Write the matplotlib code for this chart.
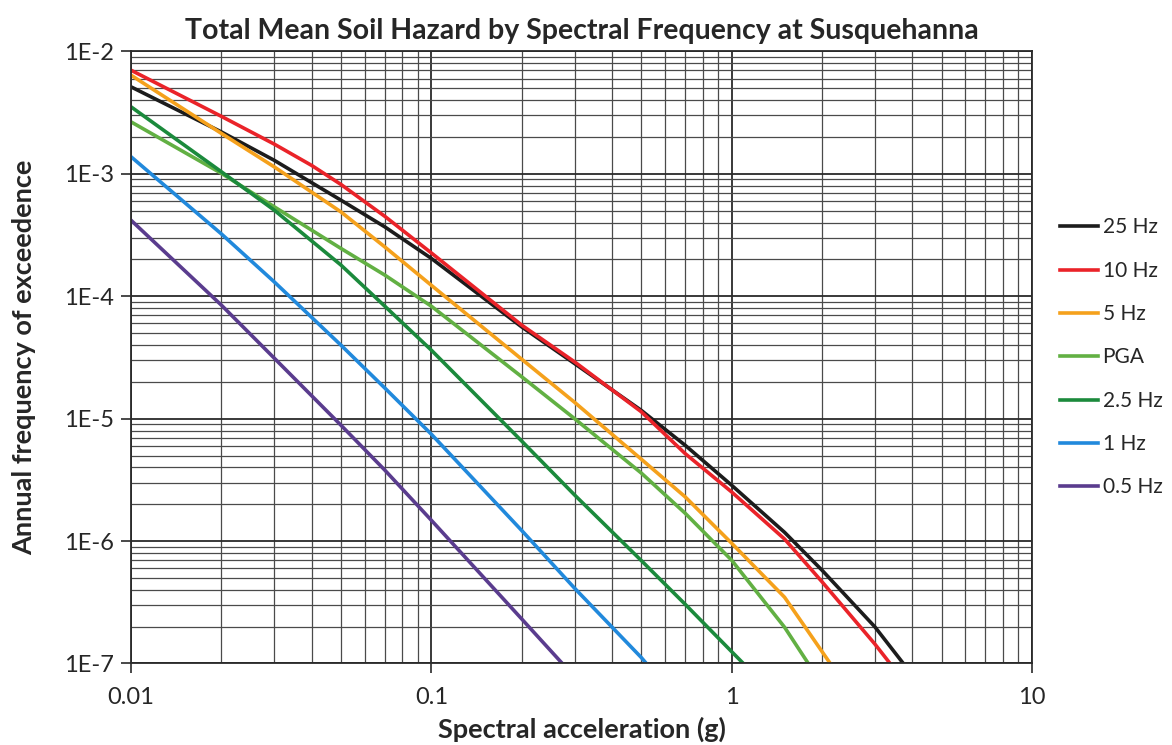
import matplotlib
matplotlib.use('Agg')
import matplotlib.pyplot as plt
from matplotlib.ticker import LogLocator, NullFormatter, FixedLocator

# hazard curves (x in g, y = annual frequency)
labels = ['25 Hz', '10 Hz', '5 Hz', 'PGA', '2.5 Hz', '1 Hz', '0.5 Hz']
colors = ['#1c1c1c', '#ea2329', '#f5a11c', '#62b043', '#1b8a3c', '#2189dc', '#5a3c8e']

x_25hz = [0.01, 0.02, 0.03, 0.05, 0.07, 0.1, 0.2, 0.3, 0.5, 0.7, 1, 1.5, 2, 3, 3.73]
y_25hz = [5.14e-3, 2.20e-3, 1.29e-3, 6.10e-4, 3.69e-4, 2.04e-4, 5.62e-5, 2.82e-5,
          1.17e-5, 6.07e-6, 2.86e-6, 1.18e-6, 5.78e-7, 1.99e-7, 1e-7]

x_10hz = [0.01, 0.02, 0.03, 0.04, 0.05, 0.07, 0.1, 0.2, 0.3, 0.5, 0.7, 1, 1.5, 2,
          3, 3.37]
y_10hz = [7.03e-3, 2.95e-3, 1.75e-3, 1.17e-3, 8.2e-4, 4.5e-4, 2.26e-4, 5.81e-5,
          2.91e-5, 1.14e-5, 5.19e-6, 2.52e-6, 1.04e-6, 4.65e-7, 1.44e-7, 1e-7]

x_5hz = [0.01, 0.02, 0.03, 0.05, 0.07, 0.1, 0.2, 0.3, 0.5, 0.7, 1, 1.5, 2.13]
y_5hz = [6.40e-3, 2.14e-3, 1.14e-3, 4.89e-4, 2.53e-4, 1.23e-4, 3.06e-5, 1.36e-5,
         4.67e-6, 2.30e-6, 9.61e-7, 3.48e-7, 1e-7]

x_pga = [0.01, 0.02, 0.03, 0.05, 0.07, 0.1, 0.2, 0.3, 0.5, 0.7, 1, 1.5, 1.80]
y_pga = [2.66e-3, 1.01e-3, 5.38e-4, 2.46e-4, 1.49e-4, 8.30e-5, 2.2e-5, 1.0e-5,
         3.6e-6, 1.69e-6, 6.98e-7, 1.98e-7, 1e-7]

x_2p5hz = [0.01, 0.02, 0.03, 0.05, 0.07, 0.1, 0.2, 0.3, 0.5, 0.7, 1, 1.094]
y_2p5hz = [3.53e-3, 1.04e-3, 5.05e-4, 1.80e-4, 8.30e-5, 3.63e-5, 6.56e-6, 2.38e-6,
           6.94e-7, 3.05e-7, 1.25e-7, 1e-7]

x_1hz = [0.01, 0.02, 0.03, 0.05, 0.07, 0.1, 0.2, 0.3, 0.5, 0.52]
y_1hz = [1.38e-3, 3.23e-4, 1.31e-4, 3.99e-5, 1.78e-5, 7.47e-6, 1.22e-6, 4.12e-7,
         1.12e-7, 1e-7]

x_0p5hz = [0.01, 0.02, 0.03, 0.05, 0.07, 0.1, 0.2, 0.273]
y_0p5hz = [4.18e-4, 8.46e-5, 3.12e-5, 8.85e-6, 3.80e-6, 1.48e-6, 2.31e-7, 1e-7]

xs = [x_25hz, x_10hz, x_5hz, x_pga, x_2p5hz, x_1hz, x_0p5hz]
ys = [y_25hz, y_10hz, y_5hz, y_pga, y_2p5hz, y_1hz, y_0p5hz]

x_ticks = [0.01, 0.1, 1, 10]
x_ticklabels = ['0.01', '0.1', '1', '10']
y_ticks = [1e-2, 1e-3, 1e-4, 1e-5, 1e-6, 1e-7]
y_ticklabels = ['1E-2', '1E-3', '1E-4', '1E-5', '1E-6', '1E-7']

plt.rcParams['font.family'] = ['Lato', 'DejaVu Sans']
text_col = '#262626'

fig = plt.figure(figsize=(11.72, 7.45), dpi=100)
ax = fig.add_axes([0.1118, 0.1094, 0.7687, 0.8215])

for x, y, lab, c in zip(xs, ys, labels, colors):
    ax.plot(x, y, color=c, lw=2.6, label=lab)

ax.set_xscale('log')
ax.set_yscale('log')
ax.set_xlim(0.01, 10)
ax.set_ylim(1e-7, 1e-2)

ax.xaxis.set_major_locator(FixedLocator(x_ticks))
ax.set_xticklabels(x_ticklabels)
ax.yaxis.set_major_locator(FixedLocator(y_ticks))
ax.set_yticklabels(y_ticklabels)
for axis in (ax.xaxis, ax.yaxis):
    axis.set_minor_locator(LogLocator(base=10, subs=range(2, 10), numticks=20))
    axis.set_minor_formatter(NullFormatter())

ax.grid(which='major', color='#2a2a2a', lw=1.3)
ax.grid(which='minor', color='#4a4a4a', lw=0.9)
ax.set_axisbelow(True)
for s in ax.spines.values():
    s.set_color('#2a2a2a')
    s.set_linewidth(1.3)

ax.tick_params(which='major', direction='out', length=7, width=1.2, color='#2a2a2a',
               labelsize=17, labelcolor=text_col, pad=5)
ax.tick_params(which='minor', length=0)
ax.tick_params(axis='x', pad=10)

ax.set_title('Total Mean Soil Hazard by Spectral Frequency at Susquehanna',
             fontsize=20.5, fontweight='bold', color=text_col, pad=9)
ax.set_xlabel('Spectral acceleration (g)', fontsize=19.5, fontweight='bold',
              color=text_col, labelpad=6)
ax.set_ylabel('Annual frequency of exceedence', fontsize=19.5, fontweight='bold',
              color=text_col, labelpad=20)

ax.legend(loc='center left', bbox_to_anchor=(1.031, 0.5), frameon=False,
          fontsize=15, handlelength=1.85, handletextpad=0.2, labelspacing=1.12,
          borderpad=0, borderaxespad=0, labelcolor=text_col)

fig.savefig('out.png', dpi=100)
